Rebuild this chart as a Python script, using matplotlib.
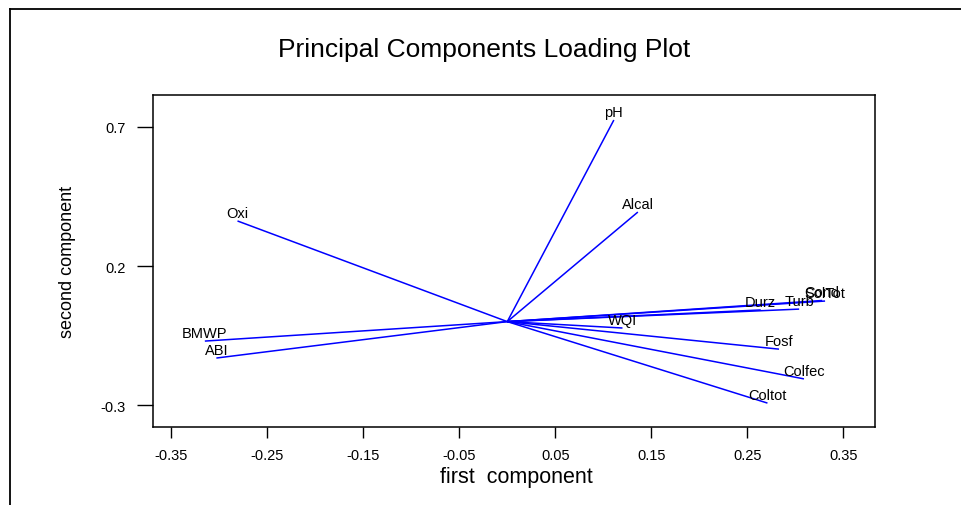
import matplotlib
matplotlib.use("Agg")
import matplotlib.pyplot as plt
from matplotlib.lines import Line2D
import numpy as np

plt.rcParams['font.family'] = ['Liberation Sans', 'DejaVu Sans']

# loadings on the first two components
variables = ['pH', 'Alcal', 'Oxi', 'BMWP', 'ABI', 'SolTot', 'Cond', 'Durz', 'Turb',
             'WQI', 'Fosf', 'Colfec', 'Coltot']
pc1 = [0.111, 0.136, -0.281, -0.315, -0.303, 0.331, 0.328, 0.264, 0.304,
       0.120, 0.283, 0.309, 0.271]
pc2 = [0.725, 0.394, 0.362, -0.070, -0.131, 0.074, 0.076, 0.042, 0.045,
       -0.023, -0.099, -0.206, -0.293]

xticks = [-0.35, -0.25, -0.15, -0.05, 0.05, 0.15, 0.25, 0.35]
yticks = [-0.3, 0.2, 0.7]

fig = plt.figure(figsize=(9.62, 5.06), dpi=100)
ax = fig.add_axes([153/962, 1-428/506, (875-153)/962, (428-96)/506])

for name, x, y in zip(variables, pc1, pc2):
    ax.plot([0, x], [0, y], color='#0000ff', lw=1.1, solid_capstyle='butt')
    ax.annotate(name, (x, y), xytext=(0, 6), textcoords='offset points',
                ha='center', va='center', fontsize=10.5)

ax.set_xlim(-0.369, 0.383)
ax.set_ylim(-0.379, 0.815)
ax.set_xticks(xticks)
ax.set_xticklabels(['%.2f' % t for t in xticks])
ax.set_yticks(yticks)
ax.set_yticklabels(['%.1f' % t for t in yticks])
ax.tick_params(axis='x', direction='out', length=8, width=1, labelsize=10.5, pad=7)
ax.tick_params(axis='y', direction='out', length=11.5, width=1, labelsize=10.5, pad=8)
for s in ax.spines.values():
    s.set_linewidth(1.1)

fig.text(484/962, 1-50/506, 'Principal Components Loading Plot', fontsize=19,
         ha='center', va='center')
fig.text(516/962, 1-478/506, 'first  component', fontsize=15.5, ha='center', va='center')
fig.text(68/962, 1-262/506, 'second component', fontsize=13, ha='center', va='center',
         rotation=90)

# outer frame (top and left edges)
fig.add_artist(Line2D([10/962, 1], [1-10/506, 1-10/506], transform=fig.transFigure,
                      color='black', lw=1.3))
fig.add_artist(Line2D([10/962, 10/962], [0, 1-10/506], transform=fig.transFigure,
                      color='black', lw=1.3))

fig.savefig('out.png', dpi=100)
